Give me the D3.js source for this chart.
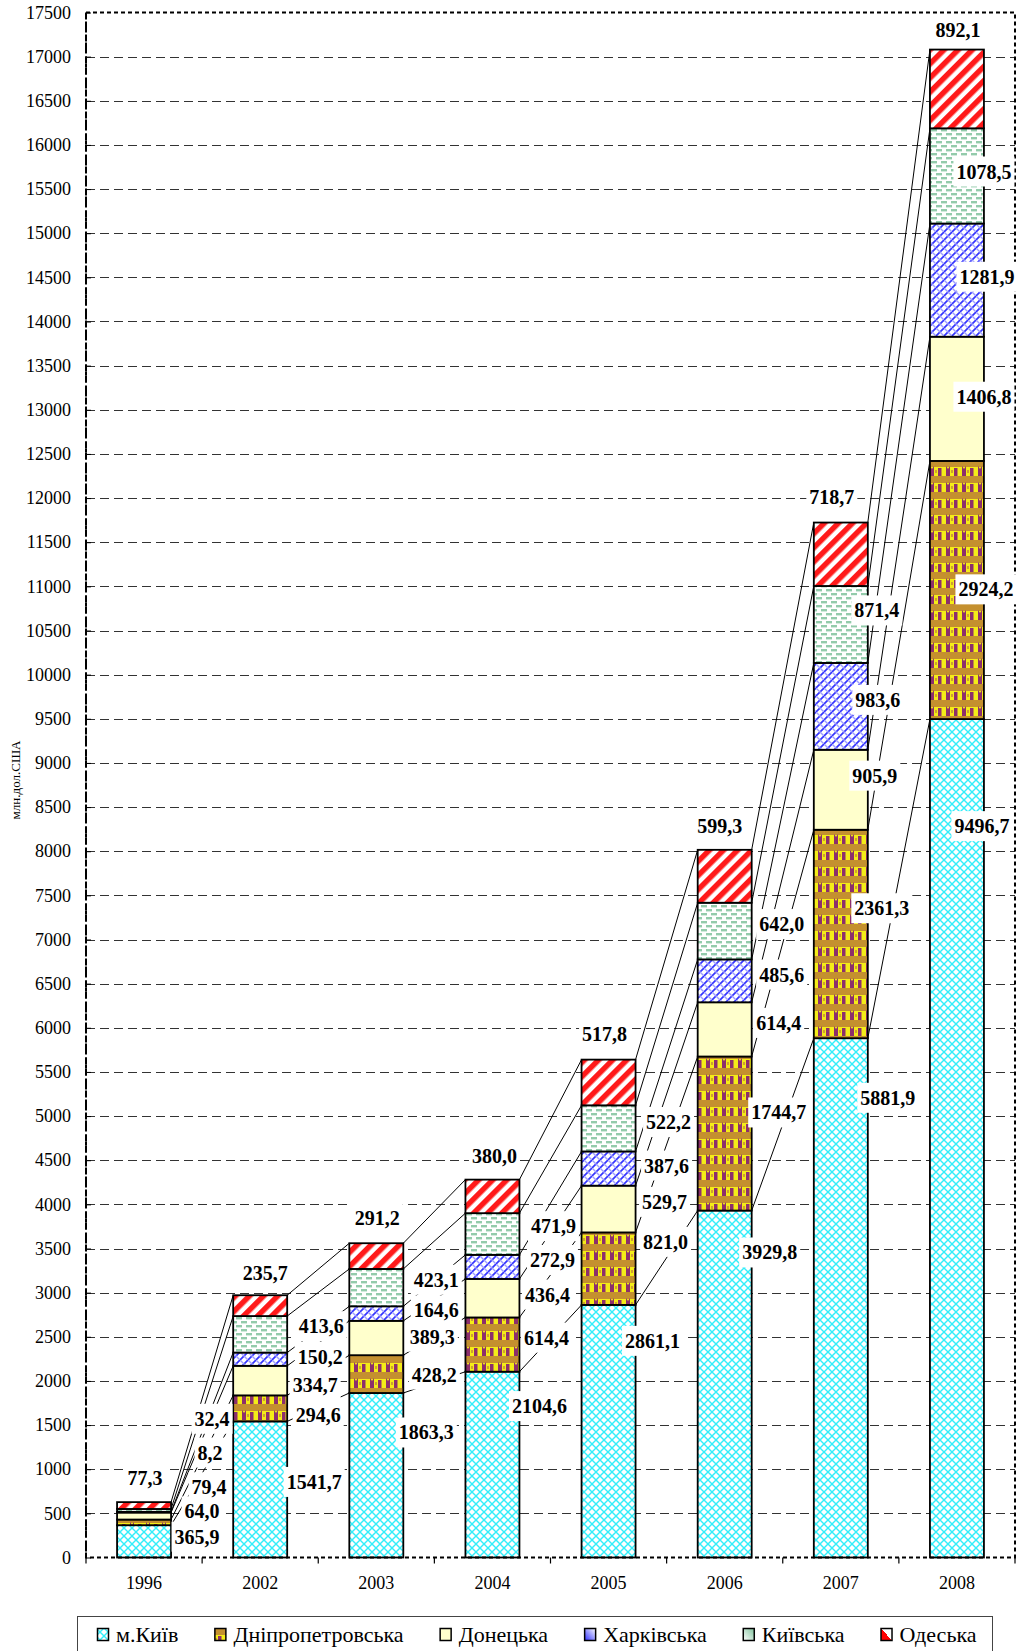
<!DOCTYPE html>
<html>
<head>
<meta charset="utf-8">
<script src="https://cdn.jsdelivr.net/npm/d3@7"></script>
<style>
  body { margin: 0; background: #fff; }
  svg { display: block; font-family: "Liberation Serif", "Times New Roman", serif; }
</style>
</head>
<body>
<div class="canvas"></div>
<script>
// --- data (млн. дол. США) ---
const years = ["1996", "2002", "2003", "2004", "2005", "2006", "2007", "2008"];
const regions = ["м.Київ", "Дніпропетровська", "Донецька", "Харківська", "Київська", "Одеська"];
const kyivCity       = [365.9, 1541.7, 1863.3, 2104.6, 2861.1, 3929.8, 5881.9, 9496.7];
const dnipro         = [64.0, 294.6, 428.2, 614.4, 821.0, 1744.7, 2361.3, 2924.2];
const donetsk        = [79.4, 334.7, 389.3, 436.4, 529.7, 614.4, 905.9, 1406.8];
const kharkiv        = [8.2, 150.2, 164.6, 272.9, 387.6, 485.6, 983.6, 1281.9];
const kyivRegion     = [32.4, 413.6, 423.1, 471.9, 522.2, 642.0, 871.4, 1078.5];
const odesa          = [77.3, 235.7, 291.2, 380.0, 517.8, 599.3, 718.7, 892.1];
const yTicks = d3.range(0, 17501, 500);

// label anchors (axis units) and shift from bar centre (px)
const labelAt = [
  [236, 856, 1416, 1715, 2454, 3455, 5207, 8284],
  [522, 1619, 2072, 2490, 3575, 5041, 7354, 10966],
  [796, 1953, 2501, 2978, 4028, 6055, 8856, 13148],
  [1189, 2275, 2799, 3370, 4440, 6603, 9714, 14507],
  [1571, 2620, 3146, 3753, 4933, 7175, 10727, 15699],
  [904, 3228, 3849, 4553, 5935, 8284, 12015, 17297]
];
const labelShift = [
  [53, 54, 50, 47, 44, 45, 47, 25],
  [58, 58, 58, 54, 57, 54, 41, 29],
  [65, 55, 56, 55, 56, 54, 34, 27],
  [66, 60, 60, 60, 58, 57, 37, 30],
  [68, 61, 60, 61, 60, 57, 36, 27],
  [1, 5, 1, 2, -4, -5, -9, 1]
];

const series = [kyivCity, dnipro, donetsk, kharkiv, kyivRegion, odesa];
const W = 1022, H = 1651;
const plotL = 86, plotR = 1015, plotT = 12.5, plotB = 1557.5;
const serif = "Liberation Serif, Times New Roman, serif";

const fmt = v => d3.format(".1f")(v).replace(".", ",");

const table = years.map((yr, i) => {
  const row = { year: yr };
  regions.forEach((r, k) => row[r] = series[k][i]);
  return row;
});
const stacked = d3.stack().keys(regions)(table);

const x = d3.scaleBand().domain(years).range([plotL, plotR])
  .paddingInner(0.535).paddingOuter(0.2675);
const xCat = d3.scaleBand().domain(years).range([plotL, plotR]).padding(0);
const y = d3.scaleLinear().domain([0, 17500]).range([plotB, plotT]);

const svg = d3.select(".canvas").append("svg")
  .attr("width", W).attr("height", H);

// patterns
const defs = svg.append("defs");
function pat(id, w, h) {
  return defs.append("pattern").attr("id", id)
    .attr("patternUnits", "userSpaceOnUse").attr("width", w).attr("height", h);
}
let p = pat("p0", 8, 8);
p.append("rect").attr("width", 8).attr("height", 8).attr("fill", "#33eefa");
[[4, 4], [0, 0], [8, 0], [0, 8], [8, 8]].forEach(c =>
  p.append("path").attr("d", `M${c[0]},${c[1] - 3} L${c[0] + 3},${c[1]} L${c[0]},${c[1] + 3} L${c[0] - 3},${c[1]}Z`)
    .attr("fill", "#fff"));

p = pat("p1", 16, 16);
p.append("rect").attr("width", 16).attr("height", 16).attr("fill", "#c4902f");
p.append("rect").attr("x", 0).attr("y", 3).attr("width", 16).attr("height", 9).attr("fill", "#f4ec18");
p.append("path").attr("d", "M2,2 L4,5 L6,2 L6,12 L2,12Z").attr("fill", "#8c2f6c");
p.append("rect").attr("x", 10).attr("y", 4).attr("width", 3.5).attr("height", 8).attr("fill", "#8c2f6c");
p.append("rect").attr("x", 7).attr("y", 6).attr("width", 2).attr("height", 3).attr("fill", "#d0a030");

p = pat("p2", 8, 8);
p.append("rect").attr("width", 8).attr("height", 8).attr("fill", "#ffffcc");

p = pat("p3", 8, 8);
p.append("rect").attr("width", 8).attr("height", 8).attr("fill", "#fff");
p.append("path").attr("d", "M-1,9 L9,-1 M-1,1 L1,-1 M7,9 L9,7").attr("stroke", "#3434ff").attr("stroke-width", 1.7);
p.append("path").attr("d", "M0,0 L8,8").attr("stroke", "#9d9dff").attr("stroke-width", 1.4);

p = pat("p4", 10, 8);
p.append("rect").attr("width", 10).attr("height", 8).attr("fill", "#fff");
p.append("rect").attr("x", 1).attr("y", 1).attr("width", 6).attr("height", 2.4).attr("fill", "#93cbab");
p.append("rect").attr("x", 6).attr("y", 5).attr("width", 6).attr("height", 2.4).attr("fill", "#93cbab");
p.append("rect").attr("x", -4).attr("y", 5).attr("width", 6).attr("height", 2.4).attr("fill", "#93cbab");

p = pat("p5", 10, 10).attr("patternTransform", "rotate(45)");
p.append("rect").attr("width", 10).attr("height", 10).attr("fill", "#fff");
p.append("rect").attr("width", 5.5).attr("height", 10).attr("fill", "#ff1a1a");

const fills = regions.map((r, k) => `url(#p${k})`);

// gridlines
svg.append("g").selectAll("line").data(yTicks.filter(t => t > 0 && t < 17500)).join("line")
  .attr("x1", plotL).attr("x2", plotR)
  .attr("y1", d => Math.round(y(d)) + 0.5).attr("y2", d => Math.round(y(d)) + 0.5)
  .attr("stroke", "#333").attr("stroke-width", 1).attr("stroke-dasharray", "9,5");

// series lines between bars
const lineG = svg.append("g");
stacked.forEach(s => {
  for (let i = 0; i < years.length - 1; i++) {
    lineG.append("line")
      .attr("x1", x(years[i]) + x.bandwidth()).attr("y1", y(s[i][1]))
      .attr("x2", x(years[i + 1])).attr("y2", y(s[i + 1][1]))
      .attr("stroke", "#000").attr("stroke-width", 1);
  }
});

// bars
svg.append("g").selectAll("g").data(stacked).join("g")
  .attr("fill", (d, k) => fills[k])
  .selectAll("rect").data(d => d).join("rect")
  .attr("x", d => x(d.data.year))
  .attr("y", d => y(d[1]))
  .attr("width", x.bandwidth())
  .attr("height", d => y(d[0]) - y(d[1]))
  .attr("stroke", "#000").attr("stroke-width", 1.8);

// plot area border and axes
svg.append("rect").attr("x", plotL).attr("y", plotT).attr("width", plotR - plotL).attr("height", plotB - plotT)
  .attr("fill", "none").attr("stroke", "#000").attr("stroke-width", 2).attr("stroke-dasharray", "4,3");
svg.append("line").attr("x1", plotL).attr("x2", plotL).attr("y1", plotT).attr("y2", plotB)
  .attr("stroke", "#000").attr("stroke-width", 2).attr("stroke-dasharray", "7,4");

const yAxis = svg.append("g").attr("transform", `translate(${plotL},0)`)
  .call(d3.axisLeft(y).tickValues(yTicks).tickSize(6).tickPadding(9).tickFormat(d3.format("d")));
yAxis.select(".domain").remove();
yAxis.attr("font-family", serif).attr("font-size", 18);
yAxis.selectAll(".tick line").attr("x2", 5).attr("stroke", "#000");
yAxis.selectAll("text").attr("fill", "#000");

const xAxis = svg.append("g").attr("transform", `translate(0,${plotB})`)
  .call(d3.axisBottom(xCat).tickSize(0).tickPadding(19));
xAxis.select(".domain").remove();
xAxis.attr("font-family", serif).attr("font-size", 18);
xAxis.selectAll("text").attr("fill", "#000");
svg.append("g").selectAll("line").data(years.map(yr => xCat(yr)).concat([plotR])).join("line")
  .attr("x1", d => d).attr("x2", d => d).attr("y1", plotB).attr("y2", plotB + 6)
  .attr("stroke", "#000").attr("stroke-width", 1.2);

// axis title
svg.append("text").attr("transform", "translate(20,780) rotate(-90)")
  .attr("text-anchor", "middle").attr("font-size", 13).text("млн.дол.США");

// data labels
const labG = svg.append("g");
series.forEach((vals, k) => {
  vals.forEach((v, i) => {
    const cx = x(years[i]) + x.bandwidth() / 2 + labelShift[k][i];
    const cy = y(labelAt[k][i]);
    const g = labG.append("g");
    const t = g.append("text").attr("x", cx).attr("y", cy).attr("dy", "0.35em")
      .attr("text-anchor", "middle").attr("font-size", 20).attr("font-weight", "bold")
      .text(fmt(v));
    const b = t.node().getBBox();
    g.insert("rect", "text").attr("x", b.x - 3).attr("y", cy - 15)
      .attr("width", b.width + 6).attr("height", 30).attr("fill", "#fff");
  });
});

// legend
const lg = svg.append("g");
lg.append("rect").attr("x", 77.5).attr("y", 1616.5).attr("width", 915).attr("height", 50)
  .attr("fill", "#fff").attr("stroke", "#444").attr("stroke-width", 1);
const lgrad = [null, null, null, ["#3030ff", "#fff"], ["#fff", "#7fc39c"], ["#ff0000", "#fff"]];
lgrad.forEach((c, k) => {
  if (!c) return;
  const gr = defs.append("linearGradient").attr("id", "lg" + k)
    .attr("x1", 0).attr("y1", 1).attr("x2", 1).attr("y2", 0);
  gr.append("stop").attr("offset", k === 5 ? "0.5" : "0").attr("stop-color", c[0]);
  gr.append("stop").attr("offset", k === 5 ? "0.5" : "1").attr("stop-color", c[1]);
});
let lx = 97;
regions.forEach((r, k) => {
  lg.append("rect").attr("x", lx + 0.5).attr("y", 1628.5).attr("width", 11).attr("height", 12)
    .attr("fill", lgrad[k] ? `url(#lg${k})` : fills[k]).attr("stroke", "#000").attr("stroke-width", 1.5);
  const t = lg.append("text").attr("x", lx + 19).attr("y", 1642).attr("font-size", 22).text(r);
  lx = lx + 19 + t.node().getComputedTextLength() + 36;
});
</script>
</body>
</html>
